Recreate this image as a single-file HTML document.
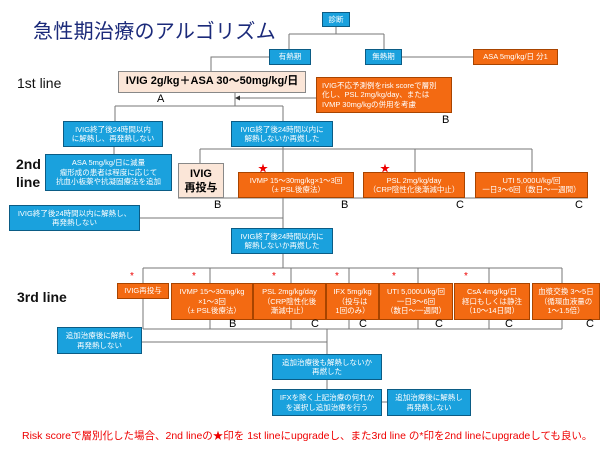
<!DOCTYPE html>
<html><head><meta charset="utf-8"><style>
*{margin:0;padding:0;box-sizing:border-box}
body{width:600px;height:450px;background:#fff;position:relative;overflow:hidden;font-family:"Liberation Sans","Noto Sans CJK JP",sans-serif}
.b{position:absolute;display:flex;align-items:center;justify-content:center;text-align:center;color:#fff;font-size:7.5px;line-height:9.5px;border:1px solid #0b5c85;background:#1aa1dd}
.o{background:#f36a12;border-color:#a84400}
.p{background:#fbe6d8;border-color:#888;color:#000;font-weight:bold}
.t{position:absolute;font-size:14px;color:#111}
.l{position:absolute;font-size:11px;color:#000}
.s{position:absolute;color:#e00;font-size:10px}
svg{position:absolute;left:0;top:0}
</style></head><body>
<svg width="600" height="450" stroke="#777" stroke-width="1" fill="none">
<path d="M336 27V34M289 34H384M289 34V49M384 34V49M402 57H473M269 57H211V71"/>
<path d="M235 93V106M115 106H283M115 106V121M283 106V121M316 98H239"/>
<polygon points="235,98 240,95.5 240,100.5" fill="#333" stroke="none"/>
<path d="M114 147V154M283 147V149M200 149H532M200 149V163M283 149V172M415 149V172M532 149V172M178 198H588M283 198V228M140 218H283"/>
<path d="M283 254V268M143 268H562M143 268V283M210 268V283M291 268V283M349 268V283M418 268V283M489 268V283M562 268V283"/>
<path d="M143 299V329M143 329H562M210 320V329M291 320V329M349 320V329M418 320V329M489 320V329M562 320V329M327 329V354M142 342H327M327 380V389M382 402H387"/>
</svg>
<div style="position:absolute;left:33px;top:15px;font-size:20px;color:#1b2a7a;letter-spacing:0.3px">急性期治療のアルゴリズム</div>
<div class="b" style="left:322px;top:12px;width:28px;height:15px">診断</div>
<div class="b" style="left:269px;top:49px;width:42px;height:16px">有熱期</div>
<div class="b" style="left:365px;top:49px;width:37px;height:16px">無熱期</div>
<div class="b o" style="left:473px;top:49px;width:85px;height:16px">ASA 5mg/kg/日 分1</div>
<div class="t" style="left:17px;top:75px">1st line</div>
<div class="b p" style="left:118px;top:71px;width:188px;height:22px;font-size:11px">IVIG 2g/kg＋ASA 30～50mg/kg/日</div>
<div class="b o" style="left:316px;top:77px;width:136px;height:36px;justify-content:flex-start;text-align:left;padding-left:5px">IVIG不応予測例をrisk scoreで層別<br>化し、PSL 2mg/kg/day、または<br>IVMP 30mg/kgの併用を考慮</div>
<div class="l" style="left:157px;top:93px">A</div>
<div class="l" style="left:442px;top:114px">B</div>
<div class="b" style="left:63px;top:121px;width:100px;height:26px">IVIG終了後24時間以内<br>に解熱し、再発熱しない</div>
<div class="b" style="left:231px;top:121px;width:102px;height:26px">IVIG終了後24時間以内に<br>解熱しないか再燃した</div>
<div class="t" style="left:16px;top:155px;font-weight:bold;line-height:18px">2nd<br>line</div>
<div class="b" style="left:45px;top:154px;width:127px;height:37px">ASA 5mg/kg/日に減量<br>瘤形成の患者は程度に応じて<br>抗血小板薬や抗凝固療法を追加</div>
<div class="b p" style="left:178px;top:163px;width:46px;height:35px;font-size:11px;line-height:14px">IVIG<br>再投与</div>
<div class="s" style="left:258px;top:160px">★</div>
<div class="s" style="left:380px;top:160px">★</div>
<div class="b o" style="left:238px;top:172px;width:116px;height:26px">IVMP 15～30mg/kg×1～3回<br>（± PSL後療法）</div>
<div class="b o" style="left:363px;top:172px;width:102px;height:26px">PSL 2mg/kg/day<br>（CRP陰性化後漸減中止）</div>
<div class="b o" style="left:475px;top:172px;width:113px;height:26px">UTI 5,000U/kg/回<br>一日3～6回（数日～一週間）</div>
<div class="l" style="left:214px;top:199px">B</div>
<div class="l" style="left:341px;top:199px">B</div>
<div class="l" style="left:456px;top:199px">C</div>
<div class="l" style="left:575px;top:199px">C</div>
<div class="b" style="left:9px;top:205px;width:131px;height:26px">IVIG終了後24時間以内に解熱し、<br>再発熱しない</div>
<div class="b" style="left:231px;top:228px;width:102px;height:26px">IVIG終了後24時間以内に<br>解熱しないか再燃した</div>
<div class="t" style="left:17px;top:289px;font-weight:bold">3rd line</div>
<div class="s" style="left:130px;top:271px">*</div>
<div class="s" style="left:192px;top:271px">*</div>
<div class="s" style="left:272px;top:271px">*</div>
<div class="s" style="left:335px;top:271px">*</div>
<div class="s" style="left:392px;top:271px">*</div>
<div class="s" style="left:464px;top:271px">*</div>
<div class="b o" style="left:117px;top:283px;width:52px;height:16px">IVIG再投与</div>
<div class="b o" style="left:171px;top:283px;width:82px;height:37px">IVMP 15～30mg/kg<br>×1～3回<br>（± PSL後療法）</div>
<div class="b o" style="left:253px;top:283px;width:73px;height:37px">PSL 2mg/kg/day<br>（CRP陰性化後<br>漸減中止）</div>
<div class="b o" style="left:326px;top:283px;width:53px;height:37px">IFX 5mg/kg<br>（投与は<br>1回のみ）</div>
<div class="b o" style="left:379px;top:283px;width:74px;height:37px">UTI 5,000U/kg/回<br>一日3～6回<br>（数日～一週間）</div>
<div class="b o" style="left:454px;top:283px;width:76px;height:37px">CsA 4mg/kg/日<br>経口もしくは静注<br>（10～14日間）</div>
<div class="b o" style="left:532px;top:283px;width:68px;height:37px">血漿交換 3～5日<br>（循環血液量の<br>1～1.5倍）</div>
<div class="l" style="left:229px;top:318px">B</div>
<div class="l" style="left:311px;top:318px">C</div>
<div class="l" style="left:359px;top:318px">C</div>
<div class="l" style="left:435px;top:318px">C</div>
<div class="l" style="left:505px;top:318px">C</div>
<div class="l" style="left:586px;top:318px">C</div>
<div class="b" style="left:57px;top:327px;width:85px;height:27px">追加治療後に解熱し<br>再発熱しない</div>
<div class="b" style="left:272px;top:354px;width:110px;height:26px">追加治療後も解熱しないか<br>再燃した</div>
<div class="b" style="left:272px;top:389px;width:110px;height:27px">IFXを除く上記治療の何れか<br>を選択し追加治療を行う</div>
<div class="b" style="left:387px;top:389px;width:84px;height:27px">追加治療後に解熱し<br>再発熱しない</div>
<div style="position:absolute;left:22px;top:428px;font-size:10.5px;color:#e00;white-space:nowrap">Risk scoreで層別化した場合、2nd lineの★印を 1st lineにupgradeし、また3rd line の*印を2nd lineにupgradeしても良い。</div>
</body></html>
